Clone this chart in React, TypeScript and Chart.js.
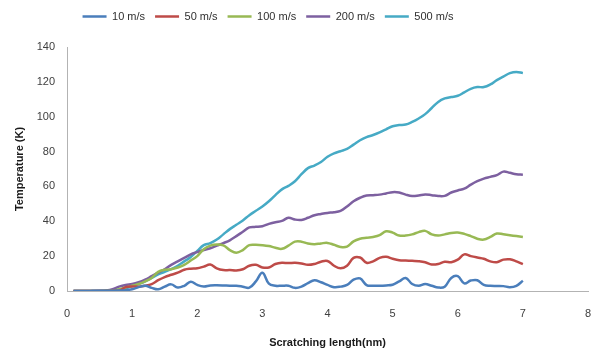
import React, { useEffect, useRef } from "react";
import { Chart, registerables } from "chart.js";

Chart.register(...registerables);

const xValues = [
  0.1, 0.2, 0.3, 0.4, 0.5, 0.6, 0.7, 0.8, 0.9, 1.0,
  1.1, 1.2, 1.3, 1.4, 1.5, 1.6, 1.7, 1.8, 1.9, 2.0,
  2.1, 2.2, 2.3, 2.4, 2.5, 2.6, 2.7, 2.8, 2.9, 3.0,
  3.1, 3.2, 3.3, 3.4, 3.5, 3.6, 3.7, 3.8, 3.9, 4.0,
  4.1, 4.2, 4.3, 4.4, 4.5, 4.6, 4.7, 4.8, 4.9, 5.0,
  5.1, 5.2, 5.3, 5.4, 5.5, 5.6, 5.7, 5.8, 5.9, 6.0,
  6.1, 6.2, 6.3, 6.4, 6.5, 6.6, 6.7, 6.8, 6.9, 7.0,
];

const s10 = [
  0, 0, 0, 0.1, 0.1, 0.2, 0.2, 0.3, 0.5, 1.0,
  2.2, 3.0, 1.8, 1.0, 2.5, 3.8, 2.0, 3.0, 5.3, 3.5,
  2.6, 3.2, 3.3, 3.2, 3.0, 3.0, 2.5, 1.9, 5.5, 10.5,
  4.2, 3.0, 3.0, 3.0, 1.8, 2.5, 4.5, 6.2, 5.0, 3.5,
  2.2, 2.5, 3.5, 6.5, 7.2, 3.4, 3.0, 3.0, 3.2, 3.6,
  5.5, 7.5, 4.0, 3.0, 4.0, 3.0, 2.0, 2.5, 7.5, 8.5,
  4.4, 6.0, 6.2, 3.5, 3.0, 2.9, 2.8, 2.2, 3.0, 5.9,
];

const s50 = [
  0, 0, 0, 0, 0, 0, 0.1, 0.2, 2.2, 2.6,
  2.5, 3.0, 4.0, 6.2, 8.0, 9.3, 10.5, 12.2, 12.8, 13.0,
  14.0, 15.2, 13.0, 12.0, 12.0, 11.8, 12.5, 14.5, 15.0, 13.5,
  13.5, 15.5, 16.2, 16.0, 16.2, 15.8, 15.0, 15.5, 16.8, 17.2,
  14.5, 13.0, 14.5, 19.0, 19.2, 16.2, 17.0, 19.0, 19.6, 18.5,
  17.7, 17.5, 17.3, 17.1, 16.5, 15.2, 15.5, 16.8, 16.5, 18.0,
  21.0, 20.0, 19.2, 18.5, 17.0, 16.5, 18.0, 18.2, 17.0, 15.4,
];

const s100 = [
  0, 0, 0, 0, 0, 0.1, 0.3, 1.0, 2.0, 3.0,
  4.0, 5.5, 7.5, 11.0, 12.2, 12.5, 13.5, 15.0, 17.5, 20.0,
  24.0, 26.0, 26.7, 26.2, 23.5, 22.0, 23.5, 26.3, 26.5, 26.3,
  25.8, 24.8, 24.2, 26.0, 28.3, 28.3, 27.2, 26.8, 27.3, 27.6,
  26.5, 25.3, 25.5, 28.5, 30.0, 30.6, 31.0, 32.0, 34.3, 33.5,
  31.8, 31.8, 32.5, 33.8, 34.5, 32.5, 31.8, 32.5, 33.3, 33.5,
  32.8, 31.5, 30.0, 29.5, 31.0, 33.0, 32.5, 32.0, 31.5, 31.0,
];

const s200 = [
  0, 0, 0, 0, 0.1, 0.3, 1.0, 2.5, 3.5, 4.0,
  5.0, 6.5, 8.5, 10.5, 12.5, 15.0, 17.0, 19.0, 21.0, 22.3,
  23.5, 24.5, 26.0, 27.5, 29.1, 31.5, 34.0, 36.5, 36.8, 37.2,
  38.5, 39.5, 40.2, 42.0, 41.0, 40.8, 42.0, 43.5, 44.2, 44.8,
  45.2, 46.0, 48.5, 51.5, 53.5, 54.8, 55.0, 55.3, 56.0, 56.7,
  56.5, 55.3, 54.5, 54.8, 55.4, 55.0, 54.5, 54.6, 56.5, 57.7,
  58.7, 61.0, 63.0, 64.5, 65.5, 66.5, 68.5, 67.8, 67.0, 66.7,
];

const s500 = [
  0, 0, 0, 0, 0, 0.1, 0.3, 0.8, 1.5, 2.8,
  4.0, 5.5, 7.5, 9.5, 11.0, 12.5, 14.5, 17.0, 19.5, 23.0,
  26.3, 27.5, 29.5, 32.5, 35.5, 38.0, 40.5, 43.5, 46.0, 48.5,
  51.5, 55.0, 58.3, 60.3, 63.0, 67.0, 70.5, 72.0, 74.0, 77.0,
  79.0, 80.2, 81.5, 84.0, 86.5, 88.3, 89.5, 91.0, 92.8, 94.5,
  95.2, 95.5, 97.0, 99.0, 101.5, 105.0, 108.5, 110.5, 111.3, 112.0,
  114.0, 116.0, 117.0, 117.0, 118.5, 121.0, 123.0, 125.0, 125.7, 125.0,
];

const seriesLabels = ["10 m/s", "50 m/s", "100 m/s", "200 m/s", "500 m/s"];
const seriesValues = [s10, s50, s100, s200, s500];
const seriesColors = ["#4A7EBB", "#BE4B48", "#98B954", "#7D60A0", "#46AAC5"];

const xTitle = "Scratching length(nm)";
const yTitle = "Temperature (K)";

const FONT = "'Liberation Sans', Arial, sans-serif";

export default function App() {
  const ref = useRef<HTMLCanvasElement | null>(null);

  useEffect(() => {
    if (!ref.current) return;
    const legendShift = {
      id: "legendShift",
      afterLayout(chart: any) {
        if (chart.legend) {
          chart.legend.left -= 26;
          chart.legend.right -= 26;
          chart.legend.top -= 15;
          chart.legend.bottom -= 15;
        }
      },
    };
    const chart = new Chart(ref.current, {
      type: "line",
      data: {
        datasets: seriesValues.map((vals, i) => ({
          label: seriesLabels[i],
          data: vals.map((v, j) => ({ x: xValues[j], y: v })),
          borderColor: seriesColors[i],
          backgroundColor: seriesColors[i],
          borderWidth: 2.5,
          pointRadius: 0,
          tension: 0.4,
          fill: false,
        })),
      },
      options: {
        animation: false,
        responsive: false,
        maintainAspectRatio: false,
        layout: { padding: { top: 16, right: 4, bottom: 0, left: 0 } },
        plugins: {
          legend: {
            display: true,
            position: "top",
            labels: {
              usePointStyle: true,
              pointStyle: "line",
              pointStyleWidth: 24,
              boxHeight: 11,
              padding: 10,
              color: "#303030",
              font: { family: FONT, size: 11 },
            },
          },
          tooltip: { enabled: false },
        },
        scales: {
          x: {
            type: "linear",
            min: 0,
            max: 8,
            ticks: {
              stepSize: 1,
              color: "#404040",
              font: { family: FONT, size: 11 },
              padding: 16,
              maxRotation: 0,
            },
            grid: { display: true, drawOnChartArea: false, drawTicks: false },
            border: { display: true, color: "#b3b3b3", width: 1 },
            title: {
              display: true,
              text: xTitle,
              color: "#1a1a1a",
              font: { family: FONT, size: 11, weight: "bold" },
              padding: { top: 0, bottom: 4 },
            },
            afterFit(scale: any) {
              scale.height = 63;
              scale.paddingLeft = 0;
              scale.paddingRight = 0;
            },
          },
          y: {
            min: 0,
            max: 140,
            ticks: {
              stepSize: 20,
              color: "#404040",
              font: { family: FONT, size: 11 },
              padding: 12,
            },
            grid: { display: true, drawOnChartArea: false, drawTicks: false },
            border: { display: true, color: "#b3b3b3", width: 1 },
            title: {
              display: true,
              text: yTitle,
              color: "#1a1a1a",
              font: { family: FONT, size: 11, weight: "bold" },
              padding: { top: 13, bottom: 0 },
            },
            afterFit(scale: any) {
              scale.width = 67;
            },
          },
        },
      },
      plugins: [legendShift],
    });
    return () => chart.destroy();
  }, []);

  return (
    <div style={{ position: "fixed", left: 0, top: 0, width: 592, height: 354, background: "#fff" }}>
      <canvas ref={ref} width={592} height={354} style={{ width: 592, height: 354 }} />
    </div>
  );
}
